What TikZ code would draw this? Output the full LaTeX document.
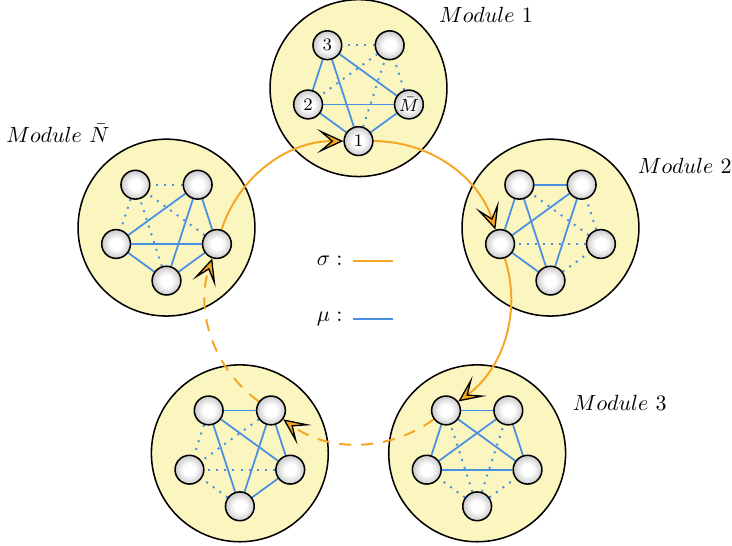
\documentclass[tikz,border=0pt]{standalone}
\usepackage{amsmath,amssymb}
\usepackage{tikz}
\usetikzlibrary{arrows.meta}

\definecolor{modyellow}{RGB}{251,246,192}
\definecolor{sigorange}{RGB}{245,166,35}
\definecolor{mublue}{RGB}{74,144,226}

\pgfdeclareradialshading{unitball}{\pgfpoint{0bp}{0bp}}{%
  color(0bp)=(white); color(10bp)=(white); color(30bp)=(black!28); color(50bp)=(black!55)}

\pgfdeclarelayer{discs}
\pgfdeclarelayer{links}
\pgfsetlayers{discs,links,main}

\begin{document}
\begin{tikzpicture}[
    module/.style={draw, circle, fill=modyellow, line width=0.7pt, minimum size=2.83cm, inner sep=0pt},
    unit/.style={draw, circle, line width=0.7pt, minimum size=0.46cm, inner sep=0pt,
                 shading=unitball, font=\footnotesize},
    mu/.style={mublue, line width=0.8pt},
    mudot/.style={mublue, line width=0.9pt, dash pattern=on 0.9pt off 2.8pt},
    sig/.style={sigorange, line width=0.9pt,
                -{Stealth[length=12pt, width=11pt, inset=6.5pt, fill=sigorange, color=black, line width=0.6pt]}},
    sigdash/.style={sig, dash pattern=on 5.5pt off 4.5pt},
    lbl/.style={font=\normalsize},
]
\useasboundingbox (-5.736,-4.096) rectangle (5.976,4.64);

% modules: a disc each, five units on a pentagon
\foreach \m in {0,...,4}{
  \begin{pgfonlayer}{discs}
    \node[module] (mod\m) at (90-72*\m:3.23) {};
  \end{pgfonlayer}
  \begin{scope}[shift={(90-72*\m:3.23)}]
    \foreach \j/\txt in {0/1, 1/$\bar{M}$, 2/, 3/3, 4/2}{
      \node[unit] (u\m-\j) at (-90+72*\j:0.848) {\ifnum\m=0 \txt\fi};
    }
  \end{scope}
}

\begin{pgfonlayer}{links}
  % mu links inside each module, the idle unit only dotted
  \foreach \m in {0,...,4}{
    \pgfmathtruncatemacro{\idle}{mod(7-\m,5)}
    \foreach \j in {0,...,3}{
      \pgfmathtruncatemacro{\jn}{\j+1}
      \foreach \k in {\jn,...,4}{
        \pgfmathtruncatemacro{\isidle}{(\j==\idle)||(\k==\idle)}
        \ifnum\isidle=1
          \draw[mudot] (u\m-\j) -- (u\m-\k);
        \else
          \draw[mu] (u\m-\j) -- (u\m-\k);
        \fi
      }
    }
  }
  % sigma ring between modules
  \draw[sig] (u4-1) to[bend left=36, looseness=0.95] (u0-0);
  \draw[sig] (u0-0) to[bend left=36, looseness=0.95] (u1-4);
  \draw[sig] (u1-4) to[bend left=36, looseness=0.95] (u2-3);
  \draw[sigdash] (u2-3) to[bend left=36, looseness=0.95] (u3-2);
  \draw[sigdash] (u3-2) to[bend left=36, looseness=0.95] (u4-1);
\end{pgfonlayer}

% module names
\node[lbl] (lab1) at (2.04,4.40) {$Module~1$};
\node[lbl] (lab2) at (5.22,1.98) {$Module~2$};
\node[lbl] (lab3) at (4.18,-1.81) {$Module~3$};
\node[lbl] (labN) at (-4.81,2.51) {$Module~\bar{N}$};

% key
\node[anchor=east, inner sep=0pt] (sigkey) at (-0.25,0.46) {$\sigma:$};
\draw[sigorange, line width=0.9pt] ([xshift=0.16cm]sigkey.east) -- ++(0.64,0);
\node[anchor=east, inner sep=0pt] (mukey) at (-0.25,-0.46) {$\mu:$};
\draw[mu] ([xshift=0.16cm]mukey.east) -- ++(0.64,0);
\end{tikzpicture}
\end{document}
